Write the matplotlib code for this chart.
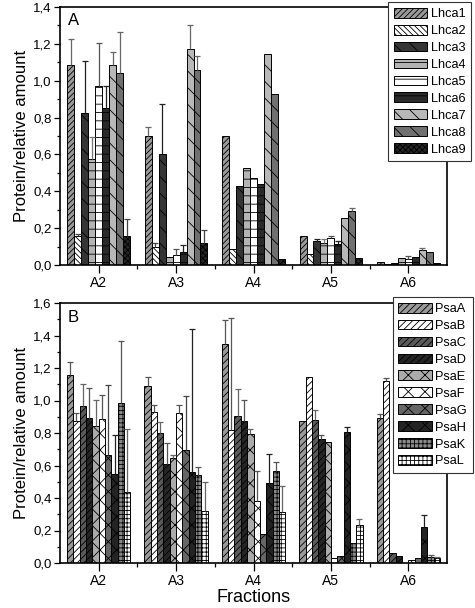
import numpy as np
import matplotlib
matplotlib.use("Agg")
import matplotlib.pyplot as plt
from matplotlib.ticker import MultipleLocator, FuncFormatter

plt.rcParams['font.family'] = ['Liberation Sans', 'DejaVu Sans']
plt.rcParams['hatch.linewidth'] = 0.6

fractions = ['A2', 'A3', 'A4', 'A5', 'A6']

# Panel A: Lhca proteins
lhca_names = ['Lhca1', 'Lhca2', 'Lhca3', 'Lhca4', 'Lhca5', 'Lhca6', 'Lhca7', 'Lhca8', 'Lhca9']
lhca1 = [1.085, 0.70, 0.70, 0.16, 0.018]
lhca2 = [0.155, 0.10, 0.085, 0.06, 0.008]
lhca3 = [0.826, 0.60, 0.43, 0.13, 0.012]
lhca4 = [0.573, 0.045, 0.525, 0.12, 0.036]
lhca5 = [0.973, 0.052, 0.47, 0.145, 0.033]
lhca6 = [0.85, 0.07, 0.44, 0.112, 0.042]
lhca7 = [1.085, 1.172, 1.143, 0.255, 0.08]
lhca8 = [1.043, 1.06, 0.93, 0.293, 0.072]
lhca9 = [0.16, 0.12, 0.034, 0.038, 0.01]
lhca_err = [
    [0.14, 0.05, 0.0, 0.0, 0.0],
    [0.015, 0.02, 0.0, 0.0, 0.0],
    [0.28, 0.275, 0.0, 0.013, 0.0],
    [0.12, 0.0, 0.0, 0.02, 0.0],
    [0.23, 0.033, 0.0, 0.014, 0.017],
    [0.12, 0.036, 0.0, 0.018, 0.0],
    [0.07, 0.13, 0.0, 0.0, 0.012],
    [0.22, 0.076, 0.0, 0.015, 0.0],
    [0.09, 0.07, 0.0, 0.0, 0.0],
]
lhca_vals = [lhca1, lhca2, lhca3, lhca4, lhca5, lhca6, lhca7, lhca8, lhca9]

# Panel B: Psa proteins
psa_names = ['PsaA', 'PsaB', 'PsaC', 'PsaD', 'PsaE', 'PsaF', 'PsaG', 'PsaH', 'PsaK', 'PsaL']
psaA = [1.157, 1.087, 1.35, 0.874, 0.892]
psaB = [0.874, 0.931, 0.816, 1.143, 1.12]
psaC = [0.966, 0.798, 0.905, 0.878, 0.064]
psaD = [0.894, 0.609, 0.872, 0.763, 0.041]
psaE = [0.843, 0.644, 0.796, 0.743, 0.0]
psaF = [0.886, 0.921, 0.382, 0.03, 0.018]
psaG = [0.665, 0.693, 0.178, 0.045, 0.03]
psaH = [0.548, 0.56, 0.494, 0.806, 0.22]
psaK = [0.983, 0.54, 0.568, 0.121, 0.04]
psaL = [0.437, 0.32, 0.316, 0.232, 0.03]
psa_err = [
    [0.08, 0.06, 0.145, 0.0, 0.025],
    [0.05, 0.043, 0.69, 0.0, 0.02],
    [0.134, 0.068, 0.164, 0.064, 0.0],
    [0.18, 0.127, 0.13, 0.023, 0.0],
    [0.158, 0.021, 0.03, 0.0, 0.0],
    [0.15, 0.049, 0.186, 0.0, 0.0],
    [0.43, 0.335, 0.0, 0.0, 0.0],
    [0.24, 0.878, 0.177, 0.031, 0.075],
    [0.385, 0.053, 0.052, 0.0, 0.012],
    [0.386, 0.178, 0.16, 0.037, 0.01],
]
psa_vals = [psaA, psaB, psaC, psaD, psaE, psaF, psaG, psaH, psaK, psaL]

lhca_style = [
    ('#9a9a9a', '//////'),
    ('#ffffff', '\\\\\\\\\\\\'),
    ('#353535', '\\\\'),
    ('#b4b4b4', '--'),
    ('#ffffff', '--'),
    ('#2a2a2a', '--'),
    ('#b8b8b8', '\\\\'),
    ('#707070', '\\\\'),
    ('#262626', 'xxxxxx'),
]
lhca_errc = ['#666666', '#444444', '#222222', '#777777', '#555555',
             '#222222', '#666666', '#666666', '#444444']

psa_style = [
    ('#9a9a9a', '/////'),
    ('#ffffff', '/////'),
    ('#5a5a5a', '/////'),
    ('#252525', '/////'),
    ('#ababab', 'xx'),
    ('#ffffff', 'xx'),
    ('#666666', 'xx'),
    ('#232323', 'xx'),
    ('#8a8a8a', '++++'),
    ('#ffffff', '++++'),
]
psa_errc = ['#555555', '#555555', '#666666', '#555555', '#666666',
            '#555555', '#444444', '#222222', '#555555', '#666666']

fig = plt.figure(figsize=(4.75, 6.08), dpi=100)
axA = fig.add_axes([60/475, 1-265/608, 387/475, 258/608])
axB = fig.add_axes([60/475, 1-563/608, 387/475, 260/608])

def comma(v, pos):
    return ('%.1f' % v).replace('.', ',')

def draw(ax, names, vals, errs, styles, errc, width, ymax, letter, leg_anchor):
    x = np.arange(len(fractions))
    n = len(names)
    for j in range(n):
        off = (j - (n - 1) / 2) * width
        fc, h = styles[j]
        ax.bar(x + off, vals[j], width=width, color=fc, edgecolor='black',
               hatch=h, linewidth=0.7, label=names[j], zorder=2)
        v = np.array(vals[j]); e = np.array(errs[j])
        m = e > 0
        ax.vlines((x + off)[m], v[m], (v + e)[m], color=errc[j], linewidth=0.9, zorder=3)
        ax.plot((x + off)[m], (v + e)[m], linestyle='none', marker='_',
                markersize=5, markeredgewidth=0.9, color=errc[j], zorder=3)
    ax.set_xlim(-0.5, len(fractions) - 0.5)
    ax.set_ylim(0, ymax)
    ax.set_xticks(x)
    ax.set_xticklabels(fractions, fontsize=10)
    ax.set_xticks(np.arange(len(fractions) - 1) + 0.5, minor=True)
    ax.yaxis.set_major_locator(MultipleLocator(0.2))
    ax.yaxis.set_minor_locator(MultipleLocator(0.1))
    ax.yaxis.set_major_formatter(FuncFormatter(comma))
    ax.tick_params(axis='y', labelsize=9.5, direction='out', length=4, width=0.9, pad=2)
    ax.tick_params(axis='y', which='minor', direction='out', length=2.5, width=0.9)
    ax.tick_params(axis='x', which='major', direction='out', length=6, width=0.9, pad=2)
    ax.tick_params(axis='x', which='minor', direction='out', length=3, width=0.9)
    for s in ax.spines.values():
        s.set_linewidth(1.2)
    ax.set_ylabel('Protein/relative amount', fontsize=12, labelpad=3)
    ax.text(0.02, 0.975, letter, transform=ax.transAxes, fontsize=12,
            ha='left', va='top')
    leg = ax.legend(loc='upper right', bbox_to_anchor=leg_anchor, borderaxespad=0,
                    fontsize=9.2, fancybox=False, framealpha=1, edgecolor='#333333',
                    handlelength=2.6, handleheight=0.8, labelspacing=0.36,
                    handletextpad=0.3, borderpad=0.45)
    leg.get_frame().set_linewidth(0.8)
    leg.set_zorder(5)

draw(axA, lhca_names, lhca_vals, lhca_err, lhca_style, lhca_errc, 0.09, 1.4, 'A',
     (1.062, 1.019))
draw(axB, psa_names, psa_vals, psa_err, psa_style, psa_errc, 0.082, 1.6, 'B',
     (1.067, 1.023))
axB.set_xlabel('Fractions', fontsize=13, labelpad=1)

fig.savefig('out.png', dpi=100)
